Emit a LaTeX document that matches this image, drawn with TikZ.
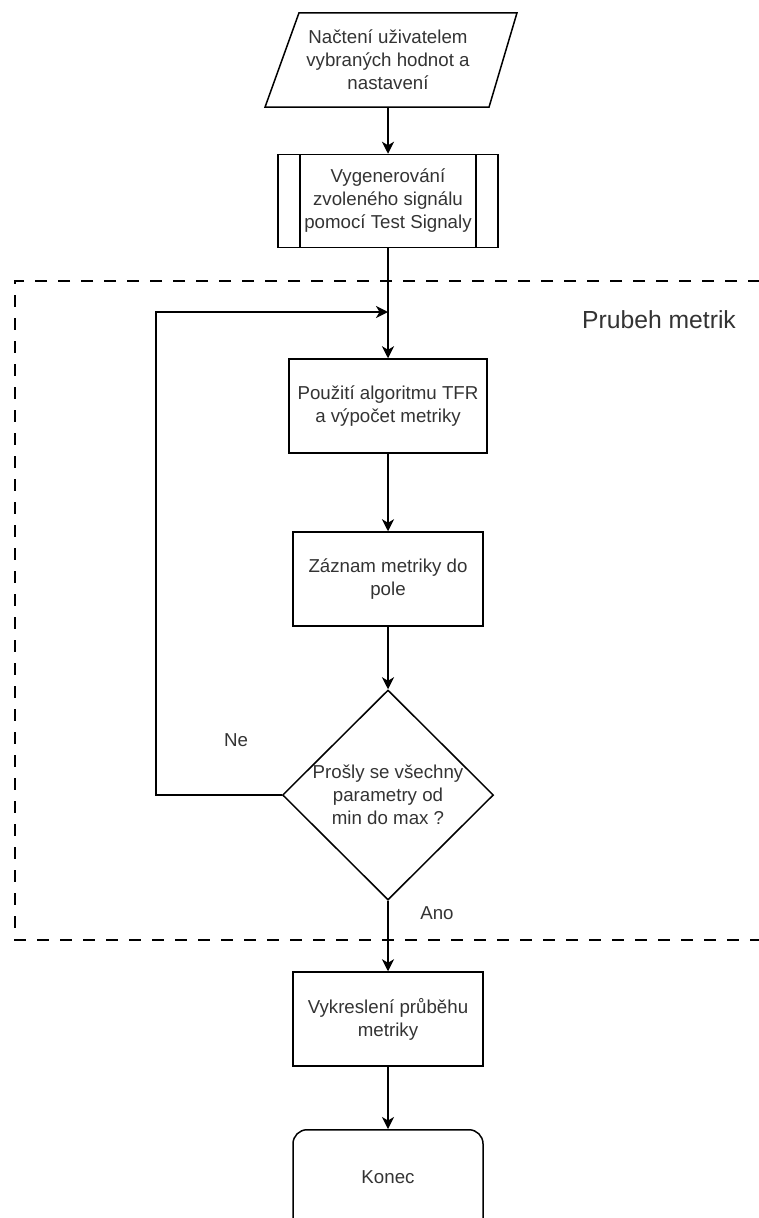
\documentclass[tikz,border=0pt]{standalone}
\usepackage{fontspec}
\setmainfont{Liberation Sans}
\usetikzlibrary{shapes.geometric,arrows.meta}

\tikzset{
	every node/.style={font=\fontsize{18.7}{23}\selectfont, text=black!80, align=center},
	block/.style={draw=black, line width=1.5pt, minimum width=190pt, minimum height=94pt, inner sep=0pt},
	subproc/.style={block, minimum width=220pt, minimum height=93pt,
		path picture={
			\draw[line width=1.5pt] ([xshift=22pt]path picture bounding box.north west) -- ([xshift=22pt]path picture bounding box.south west);
			\draw[line width=1.5pt] ([xshift=-22pt]path picture bounding box.north east) -- ([xshift=-22pt]path picture bounding box.south east);
		}},
	inout/.style={minimum width=220pt, minimum height=94pt, inner sep=0pt},
	decision/.style={draw=black, line width=1.5pt, diamond, aspect=1, minimum width=211pt, minimum height=210pt, inner sep=-8pt},
	stop/.style={block, rounded corners=14pt},
	flow/.style={line width=1.5pt, -{Stealth[length=12pt, width=12pt, inset=3.5pt]}},
	frame/.style={line width=1.5pt, dash pattern=on 12pt off 11pt}
}

\begin{document}
\begin{tikzpicture}[x=1pt, y=-1pt]
	
	\useasboundingbox (0,0) rectangle (759,1218);
	\clip (0,0) rectangle (759,1218);
	
	\node[inout] (input) at (388,60) {Načtení uživatelem\\vybraných hodnot a\\nastavení};
	\draw[line width=1.5pt] ([xshift=-89pt]input.north) -- ([xshift=129pt]input.north) -- ([xshift=101pt]input.south) -- ([xshift=-123pt]input.south) -- cycle;
	\node[subproc] (gen) at (388,201) {Vygenerování\\zvoleného signálu\\pomocí Test Signaly};
	\node[block, minimum width=198pt] (tfr) at (388,406) {Použití algoritmu TFR\\a výpočet metriky};
	\node[block] (save) at (388,579) {Záznam metriky do\\pole};
	\node[decision] (check) at (388,795) {Prošly se všechny\\parametry od\\min do max ?};
	\node[block] (plot) at (388,1019) {Vykreslení průběhu\\metriky};
	\node[stop, minimum height=110pt, text depth=16pt, anchor=north] (end) at (388,1129) {Konec};
	
	% smycka pres parametry
	\draw[frame] (760,281) -- (15,281) -- (15,940) -- (760,940);
	\node[font=\fontsize{24.7}{30}\selectfont] (title) at (659,320) {Prubeh metrik};
	
	\coordinate (join) at (388,312);
	\coordinate (back) at (156,795);
	
	\draw[flow] (input) -- (gen);
	\draw[flow] (gen) -- (tfr);
	\draw[flow] (tfr) -- (save);
	\draw[flow] (save) -- (check);
	\draw[flow] (check.west) -- (back) |- (join);
	\draw[flow] (check) -- (plot);
	\draw[flow] (plot) -- (end);
	
	\node (no) at (236,740) {Ne};
	\node (yes) at (437,913) {Ano};
	
\end{tikzpicture}
\end{document}
